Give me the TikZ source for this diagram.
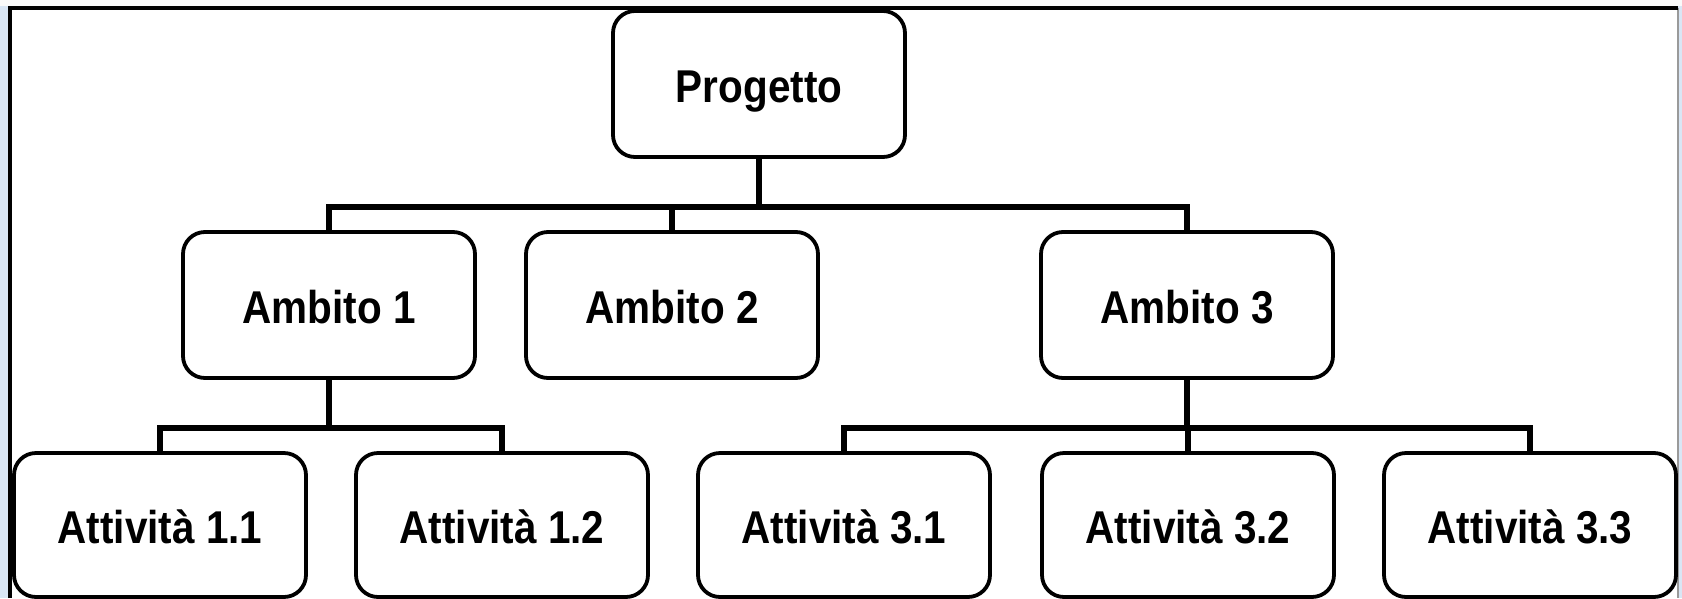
\documentclass[tikz,border=0pt]{standalone}
\usepackage{fontspec}
\newfontfamily\lbl{Liberation Sans}[FakeStretch=0.88]
\definecolor{bgblue}{HTML}{D9E6F5}
\definecolor{framegray}{HTML}{9A9A9A}
\begin{document}
\begin{tikzpicture}[x=1pt,y=-1pt,
  box/.style={draw=black, line width=3.8pt, rounded corners=22pt, fill=white,
    minimum width=292pt, minimum height=146pt, inner sep=0pt,
    text height=37pt, text depth=0pt,
    font=\lbl\bfseries\fontsize{46}{54}\selectfont},
  conn/.style={draw=black, line width=6pt}]
\useasboundingbox (0,0) rectangle (1682,598);
\fill[bgblue] (0,0) rectangle (1682,598);
\fill[white!96!gray] (0,0) rectangle (1682,6);
\fill[white] (10,8) rectangle (1678,598);
\draw[framegray, line width=1.5pt] (1678,8) -- (1678,598);
\draw[black, line width=3.5pt] (10,598) -- (10,8) -- (1678,8);

% nodes
\node[box] (P) at (759,84) {Progetto};
\node[box] (A1) at (329,305) {Ambito 1};
\node[box] (A2) at (672,305) {Ambito 2};
\node[box] (A3) at (1187,305) {Ambito 3};
\node[box, minimum height=144pt] (T11) at (160,525) {Attività 1.1};
\node[box, minimum height=144pt] (T12) at (502,525) {Attività 1.2};
\node[box, minimum height=144pt] (T31) at (844,525) {Attività 3.1};
\node[box, minimum height=144pt] (T32) at (1188,525) {Attività 3.2};
\node[box, minimum height=144pt] (T33) at (1530,525) {Attività 3.3};

% connectors
\coordinate (b1) at (759,207);
\coordinate (b2) at (329,428);
\coordinate (b3) at (1187,428);
\draw[conn] (P.south) -- (b1);
\draw[conn] (A1.north) |- (b1) -| (A3.north);
\draw[conn] (A2.north) -- (A2.north |- b1);
\draw[conn] (A1.south) -- (b2);
\draw[conn] (T11.north) |- (b2) -| (T12.north);
\draw[conn] (A3.south) -- (b3);
\draw[conn] (T31.north) |- (b3) -| (T33.north);
\draw[conn] (T32.north) -- (T32.north |- b3);
\end{tikzpicture}
\end{document}
